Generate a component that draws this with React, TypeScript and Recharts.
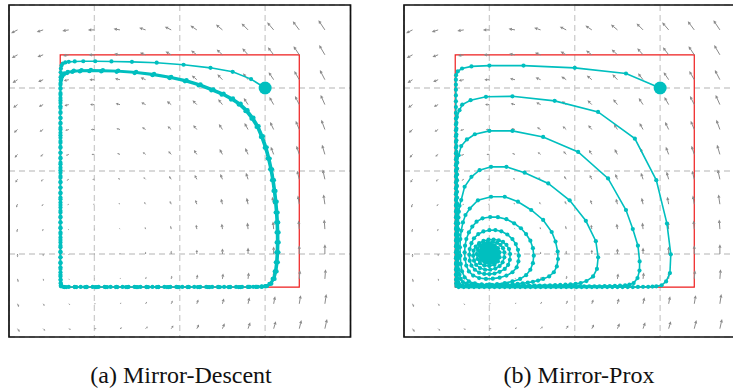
import { ScatterChart, Scatter, XAxis, YAxis, CartesianGrid, ReferenceArea } from 'recharts'

type Pt = [number, number]

const CYAN = '#00bfbf'
const ARROW = '#8a8a8a'

const gridTicks = [-1, 0, 1]
const domain: [number, number] = [-2, 2]
const boxLo = -1.4
const boxHi = 1.4

// quiver sample positions (same for both panels)
const fieldX = [-1.9, -1.6, -1.3, -1.0, -0.7, -0.4, -0.1, 0.2, 0.5, 0.8, 1.1, 1.4, 1.7]
const fieldY = [-1.9, -1.6, -1.3, -1.0, -0.7, -0.4, -0.1, 0.2, 0.5, 0.8, 1.1, 1.4, 1.7]
// horizontal component per row, vertical component per column
const fieldU = [0.9, 0.6, 0.3, 0, -0.3, -0.6, -0.9, -1.2, -1.5, -1.8, -2.1, -2.4, -2.7]
const fieldV = [-1.35, -0.9, -0.45, 0, 0.45, 0.9, 1.35, 1.8, 2.25, 2.7, 3.15, 3.6, 4.05]

// ---- (a) Mirror-Descent ----
const mdStart: Pt[] = [
  [1.0, 1.0], [0.835, 1.107], [0.62, 1.195], [0.36, 1.243], [0.045, 1.28], [-0.27, 1.305], [-0.56, 1.315],
  [-0.8, 1.32], [-0.99, 1.322], [-1.13, 1.322], [-1.23, 1.32], [-1.3, 1.315], [-1.34, 1.308], [-1.37, 1.295],
  [-1.385, 1.27], [-1.392, 1.235],
]
const mdWall1: Pt[] = [
  [-1.395, 1.19], [-1.396, 1.13], [-1.396, 1.06], [-1.397, 0.99], [-1.397, 0.92], [-1.397, 0.85], [-1.397, 0.78],
  [-1.397, 0.71], [-1.397, 0.64], [-1.397, 0.57], [-1.397, 0.5], [-1.397, 0.43], [-1.397, 0.36], [-1.397, 0.29],
  [-1.397, 0.22], [-1.397, 0.15], [-1.397, 0.08], [-1.397, 0.01], [-1.397, -0.06], [-1.397, -0.13], [-1.397, -0.2],
  [-1.397, -0.27], [-1.397, -0.34], [-1.397, -0.41], [-1.397, -0.48], [-1.397, -0.55], [-1.397, -0.62],
  [-1.397, -0.69], [-1.397, -0.76], [-1.397, -0.83], [-1.397, -0.9], [-1.397, -0.97], [-1.397, -1.04],
  [-1.397, -1.11], [-1.397, -1.18], [-1.397, -1.25], [-1.396, -1.31], [-1.394, -1.355], [-1.39, -1.385],
]
const mdBottom1: Pt[] = [
  [-1.36, -1.397], [-1.3, -1.397], [-1.23, -1.397], [-1.16, -1.397], [-1.09, -1.397], [-1.02, -1.397],
  [-0.95, -1.397], [-0.88, -1.397], [-0.81, -1.397], [-0.74, -1.397], [-0.67, -1.397], [-0.6, -1.397],
  [-0.53, -1.397], [-0.46, -1.397], [-0.39, -1.397], [-0.32, -1.397], [-0.25, -1.397], [-0.18, -1.397],
  [-0.11, -1.397], [-0.04, -1.397], [0.03, -1.397], [0.1, -1.397], [0.17, -1.397], [0.24, -1.397], [0.31, -1.397],
  [0.38, -1.397], [0.45, -1.397], [0.52, -1.397], [0.59, -1.397], [0.66, -1.397], [0.73, -1.397], [0.8, -1.397],
  [0.86, -1.396], [0.915, -1.395], [0.96, -1.393],
]
const mdReturn1: Pt[] = [
  [1.0, -1.388], [1.05, -1.36], [1.088, -1.3], [1.112, -1.21], [1.125, -1.1], [1.132, -0.98], [1.135, -0.86],
  [1.134, -0.74], [1.13, -0.62], [1.123, -0.5], [1.112, -0.37], [1.098, -0.24], [1.08, -0.11], [1.058, 0.02],
  [1.03, 0.15], [0.995, 0.28], [0.95, 0.41], [0.9, 0.53], [0.84, 0.63], [0.77, 0.72], [0.69, 0.8], [0.6, 0.86],
  [0.49, 0.92], [0.37, 0.97], [0.22, 1.03], [0.06, 1.08], [-0.12, 1.12], [-0.32, 1.155], [-0.53, 1.18],
  [-0.74, 1.195], [-0.92, 1.2], [-1.06, 1.202], [-1.17, 1.2], [-1.26, 1.193], [-1.32, 1.18], [-1.36, 1.16],
  [-1.382, 1.13], [-1.393, 1.09],
]
const mdWall2: Pt[] = [
  [-1.397, 1.0], [-1.397, 0.88], [-1.397, 0.76], [-1.397, 0.64], [-1.397, 0.52], [-1.397, 0.4], [-1.397, 0.28],
  [-1.397, 0.16], [-1.397, 0.04], [-1.397, -0.08], [-1.397, -0.2], [-1.397, -0.32], [-1.397, -0.44],
  [-1.397, -0.56], [-1.397, -0.68], [-1.397, -0.8], [-1.397, -0.92], [-1.397, -1.04], [-1.397, -1.16],
  [-1.397, -1.27], [-1.395, -1.35], [-1.39, -1.39],
]
const mdBottom2: Pt[] = [
  [-1.35, -1.398], [-1.23, -1.398], [-1.11, -1.398], [-0.99, -1.398], [-0.87, -1.398], [-0.75, -1.398],
  [-0.63, -1.398], [-0.51, -1.398], [-0.39, -1.398], [-0.27, -1.398], [-0.15, -1.398], [-0.03, -1.398],
  [0.09, -1.398], [0.21, -1.398], [0.33, -1.398], [0.45, -1.398], [0.57, -1.398], [0.69, -1.398], [0.8, -1.397],
  [0.89, -1.396], [0.955, -1.394],
]
const mdReturn2: Pt[] = [
  [1.01, -1.388], [1.061, -1.359], [1.099, -1.3], [1.123, -1.21], [1.137, -1.1], [1.144, -0.98], [1.147, -0.86],
  [1.146, -0.74], [1.142, -0.62], [1.135, -0.5], [1.124, -0.37], [1.11, -0.24], [1.092, -0.11], [1.07, 0.02],
  [1.042, 0.15], [1.007, 0.28], [0.962, 0.415], [0.912, 0.535], [0.852, 0.635], [0.782, 0.726], [0.702, 0.806],
  [0.612, 0.866], [0.502, 0.926], [0.382, 0.977], [0.232, 1.037], [0.07, 1.087], [-0.11, 1.127], [-0.31, 1.162],
  [-0.52, 1.187], [-0.73, 1.202], [-0.91, 1.208], [-1.05, 1.21], [-1.16, 1.208], [-1.25, 1.201], [-1.315, 1.188],
  [-1.357, 1.168], [-1.38, 1.138], [-1.392, 1.098],
]
const mdWall3: Pt[] = [
  [-1.397, 1.04], [-1.397, 0.94], [-1.397, 0.82], [-1.397, 0.7], [-1.397, 0.58], [-1.397, 0.46], [-1.397, 0.34],
  [-1.397, 0.22], [-1.397, 0.1], [-1.397, -0.02], [-1.397, -0.14], [-1.397, -0.26], [-1.397, -0.38],
  [-1.397, -0.5], [-1.397, -0.62], [-1.397, -0.74], [-1.397, -0.86], [-1.397, -0.98], [-1.397, -1.1],
  [-1.397, -1.22], [-1.396, -1.31], [-1.392, -1.375],
]
const mdBottom3: Pt[] = [
  [-1.33, -1.398], [-1.21, -1.398], [-1.09, -1.398], [-0.97, -1.398], [-0.85, -1.398], [-0.73, -1.398],
  [-0.61, -1.398], [-0.49, -1.398], [-0.37, -1.398], [-0.25, -1.398], [-0.13, -1.398], [-0.01, -1.398],
  [0.11, -1.398], [0.23, -1.398], [0.35, -1.398], [0.47, -1.398], [0.59, -1.398], [0.71, -1.398], [0.82, -1.397],
  [0.9, -1.396], [0.965, -1.394],
]
const mdReturn3: Pt[] = [
  [1.02, -1.388], [1.073, -1.358], [1.111, -1.3], [1.135, -1.21], [1.149, -1.1], [1.156, -0.98], [1.159, -0.86],
  [1.158, -0.74], [1.154, -0.62], [1.147, -0.5], [1.136, -0.37], [1.122, -0.24], [1.104, -0.11], [1.082, 0.02],
  [1.054, 0.15], [1.019, 0.285], [0.974, 0.42], [0.924, 0.54], [0.864, 0.642], [0.794, 0.733], [0.714, 0.813],
  [0.624, 0.874], [0.514, 0.934], [0.394, 0.985], [0.244, 1.045], [0.08, 1.095], [-0.1, 1.135], [-0.3, 1.17],
  [-0.51, 1.195], [-0.72, 1.21], [-0.9, 1.216], [-1.04, 1.218], [-1.15, 1.216], [-1.24, 1.209], [-1.31, 1.196],
  [-1.352, 1.176], [-1.377, 1.146], [-1.39, 1.106],
]

// ---- (b) Mirror-Prox ----
const mpStart: Pt[] = [
  [1.0, 1.0], [0.6, 1.175], [0.0, 1.243], [-0.6, 1.27], [-1.0, 1.27], [-1.21, 1.26], [-1.32, 1.235],
  [-1.37, 1.2], [-1.39, 1.155],
]
const mpWall1: Pt[] = [
  [-1.392, 1.1], [-1.392, 1.04], [-1.392, 0.98], [-1.392, 0.91], [-1.392, 0.84], [-1.392, 0.77], [-1.392, 0.7],
  [-1.392, 0.63], [-1.392, 0.56], [-1.392, 0.49], [-1.392, 0.42], [-1.392, 0.35], [-1.392, 0.28], [-1.392, 0.21],
  [-1.392, 0.14], [-1.392, 0.07], [-1.392, 0.0], [-1.392, -0.07], [-1.392, -0.14], [-1.392, -0.21],
  [-1.392, -0.28], [-1.392, -0.35], [-1.392, -0.42], [-1.392, -0.49], [-1.392, -0.56], [-1.392, -0.63],
  [-1.392, -0.7], [-1.392, -0.77], [-1.392, -0.84], [-1.392, -0.91], [-1.392, -0.98], [-1.392, -1.05],
  [-1.392, -1.12], [-1.392, -1.19], [-1.392, -1.25], [-1.391, -1.31], [-1.389, -1.355], [-1.385, -1.385],
]
const mpBottom1: Pt[] = [
  [-1.36, -1.398], [-1.3, -1.398], [-1.24, -1.398], [-1.18, -1.398], [-1.12, -1.398], [-1.06, -1.398],
  [-1.0, -1.398], [-0.94, -1.398], [-0.88, -1.398], [-0.82, -1.398], [-0.76, -1.398], [-0.7, -1.398],
  [-0.64, -1.398], [-0.58, -1.398], [-0.52, -1.398], [-0.46, -1.398], [-0.4, -1.398], [-0.34, -1.398],
  [-0.28, -1.398], [-0.22, -1.398], [-0.16, -1.398], [-0.1, -1.398], [-0.04, -1.398], [0.02, -1.398],
  [0.08, -1.398], [0.14, -1.398], [0.2, -1.398], [0.26, -1.398], [0.32, -1.398], [0.38, -1.398], [0.44, -1.398],
  [0.5, -1.398], [0.56, -1.398], [0.62, -1.398], [0.68, -1.398], [0.74, -1.397], [0.8, -1.396], [0.86, -1.395],
  [0.91, -1.393], [0.955, -1.39],
]
const mpReturn1: Pt[] = [
  [1.017, -1.378], [1.07, -1.33], [1.115, -1.23], [1.125, -1.004], [1.08, -0.634], [0.955, -0.11], [0.704, 0.39],
  [0.273, 0.712], [-0.235, 0.845], [-0.73, 0.9], [-1.04, 0.894], [-1.22, 0.853], [-1.317, 0.8], [-1.35, 0.733],
  [-1.38, 0.65],
]
const mpWall2: Pt[] = [
  [-1.386, 0.58], [-1.386, 0.51], [-1.386, 0.44], [-1.386, 0.37], [-1.386, 0.3], [-1.386, 0.23], [-1.386, 0.16],
  [-1.386, 0.09], [-1.386, 0.02], [-1.386, -0.05], [-1.386, -0.12], [-1.386, -0.19], [-1.386, -0.26],
  [-1.386, -0.33], [-1.386, -0.4], [-1.386, -0.47], [-1.386, -0.54], [-1.386, -0.61], [-1.386, -0.68],
  [-1.386, -0.75], [-1.386, -0.82], [-1.386, -0.89], [-1.386, -0.96], [-1.386, -1.03], [-1.386, -1.1],
  [-1.386, -1.17], [-1.385, -1.24], [-1.384, -1.3], [-1.38, -1.35], [-1.372, -1.378],
]
const mpBottom2: Pt[] = [
  [-1.33, -1.39], [-1.27, -1.391], [-1.21, -1.391], [-1.15, -1.391], [-1.09, -1.391], [-1.03, -1.391],
  [-0.97, -1.391], [-0.91, -1.391], [-0.85, -1.391], [-0.79, -1.391], [-0.73, -1.391], [-0.67, -1.391],
  [-0.61, -1.391], [-0.55, -1.391], [-0.49, -1.391], [-0.43, -1.391], [-0.37, -1.391], [-0.31, -1.391],
  [-0.25, -1.391], [-0.19, -1.391], [-0.13, -1.391], [-0.07, -1.391], [-0.01, -1.391], [0.05, -1.391],
  [0.11, -1.391], [0.17, -1.39], [0.23, -1.39], [0.29, -1.389], [0.35, -1.388], [0.41, -1.387], [0.47, -1.385],
  [0.53, -1.382], [0.59, -1.377], [0.64, -1.37],
]
const mpReturn2: Pt[] = [
  [0.69, -1.35], [0.735, -1.29], [0.758, -1.2], [0.76, -1.09], [0.74, -0.9], [0.68, -0.7], [0.6, -0.47],
  [0.39, -0.09], [0.04, 0.23], [-0.37, 0.41], [-0.73, 0.483], [-1.0, 0.483], [-1.17, 0.443], [-1.263, 0.38],
  [-1.33, 0.3], [-1.36, 0.19],
]
const mpWall3: Pt[] = [
  [-1.376, 0.1], [-1.378, 0.03], [-1.379, -0.04], [-1.379, -0.11], [-1.379, -0.18], [-1.379, -0.25],
  [-1.379, -0.32], [-1.379, -0.39], [-1.379, -0.46], [-1.379, -0.53], [-1.379, -0.6], [-1.379, -0.67],
  [-1.379, -0.74], [-1.379, -0.81], [-1.379, -0.88], [-1.379, -0.95], [-1.379, -1.02], [-1.379, -1.09],
  [-1.378, -1.16], [-1.376, -1.23], [-1.372, -1.29], [-1.364, -1.34], [-1.35, -1.368],
]
const mpBottom3: Pt[] = [
  [-1.31, -1.38], [-1.25, -1.383], [-1.19, -1.384], [-1.13, -1.384], [-1.07, -1.384], [-1.01, -1.384],
  [-0.95, -1.384], [-0.89, -1.384], [-0.83, -1.384], [-0.77, -1.384], [-0.71, -1.384], [-0.65, -1.384],
  [-0.59, -1.383], [-0.53, -1.383], [-0.47, -1.382], [-0.41, -1.381], [-0.35, -1.38], [-0.29, -1.378],
  [-0.23, -1.376], [-0.17, -1.373], [-0.11, -1.37], [-0.05, -1.365], [0.01, -1.36],
]
const mpReturn3: Pt[] = [
  [0.07, -1.35], [0.137, -1.326], [0.215, -1.27], [0.26, -1.18], [0.274, -1.04], [0.247, -0.845], [0.13, -0.6],
  [-0.06, -0.353], [-0.31, -0.15], [-0.587, -0.02], [-0.8, 0.05], [-0.98, 0.05], [-1.115, 0.01], [-1.21, -0.07],
  [-1.29, -0.19], [-1.33, -0.35],
]
const mpWall4: Pt[] = [
  [-1.35, -0.42], [-1.358, -0.49], [-1.362, -0.56], [-1.364, -0.63], [-1.365, -0.7], [-1.365, -0.77],
  [-1.365, -0.84], [-1.365, -0.91], [-1.365, -0.98], [-1.364, -1.05], [-1.362, -1.12], [-1.358, -1.19],
  [-1.35, -1.25], [-1.335, -1.3], [-1.31, -1.338],
]
const mpBottom4: Pt[] = [
  [-1.27, -1.358], [-1.21, -1.367], [-1.15, -1.37], [-1.09, -1.372], [-1.03, -1.372], [-0.97, -1.372],
  [-0.91, -1.371], [-0.85, -1.37], [-0.79, -1.368], [-0.73, -1.365], [-0.67, -1.36], [-0.61, -1.353],
  [-0.55, -1.345], [-0.49, -1.335], [-0.43, -1.32], [-0.37, -1.3],
]
const mpReturn4: Pt[] = [
  [-0.3, -1.27], [-0.245, -1.22], [-0.21, -1.15], [-0.196, -1.06], [-0.2, -0.97], [-0.225, -0.85],
  [-0.27, -0.735], [-0.37, -0.59], [-0.51, -0.47], [-0.665, -0.37], [-0.82, -0.31], [-0.98, -0.31],
  [-1.134, -0.353], [-1.23, -0.453],
]
const mpLap5: Pt[] = [
  [-1.28, -0.53], [-1.31, -0.62], [-1.33, -0.72], [-1.34, -0.82], [-1.345, -0.92], [-1.34, -1.02],
  [-1.335, -1.12], [-1.32, -1.21], [-1.29, -1.28], [-1.24, -1.33], [-1.17, -1.355], [-1.09, -1.365],
  [-1.0, -1.367], [-0.91, -1.362], [-0.82, -1.35], [-0.73, -1.33], [-0.64, -1.3], [-0.57, -1.255],
  [-0.52, -1.19], [-0.49, -1.11], [-0.48, -1.02], [-0.49, -0.93], [-0.52, -0.84], [-0.57, -0.76],
  [-0.63, -0.69], [-0.71, -0.63], [-0.8, -0.58], [-0.9, -0.556], [-0.99, -0.554], [-1.08, -0.57],
  [-1.15, -0.61], [-1.2, -0.67],
]
const mpLap6: Pt[] = [
  [-1.24, -0.74], [-1.27, -0.82], [-1.285, -0.9], [-1.29, -0.98], [-1.285, -1.06], [-1.27, -1.14],
  [-1.24, -1.21], [-1.19, -1.26], [-1.12, -1.29], [-1.04, -1.3], [-0.96, -1.297], [-0.88, -1.285],
  [-0.8, -1.26], [-0.73, -1.22], [-0.68, -1.16], [-0.66, -1.09], [-0.655, -1.02], [-0.665, -0.95],
  [-0.69, -0.88], [-0.73, -0.82], [-0.79, -0.765], [-0.86, -0.727], [-0.93, -0.712], [-1.0, -0.713],
  [-1.07, -0.728], [-1.13, -0.76], [-1.18, -0.81],
]
const mpLap7: Pt[] = [
  [-1.21, -0.87], [-1.23, -0.94], [-1.235, -1.01], [-1.23, -1.08], [-1.21, -1.14], [-1.17, -1.19],
  [-1.12, -1.225], [-1.06, -1.24], [-1.0, -1.242], [-0.94, -1.235], [-0.88, -1.215], [-0.82, -1.18],
  [-0.78, -1.13], [-0.76, -1.07], [-0.757, -1.0], [-0.77, -0.94], [-0.8, -0.89], [-0.84, -0.855],
  [-0.89, -0.835], [-0.95, -0.826], [-1.01, -0.828], [-1.07, -0.843], [-1.12, -0.87], [-1.16, -0.91],
]
const mpLap8: Pt[] = [
  [-1.185, -0.96], [-1.19, -1.02], [-1.18, -1.08], [-1.155, -1.13], [-1.11, -1.17], [-1.05, -1.19],
  [-0.99, -1.19], [-0.93, -1.175], [-0.88, -1.145], [-0.845, -1.1], [-0.825, -1.04], [-0.825, -0.98],
  [-0.84, -0.93], [-0.87, -0.89], [-0.91, -0.865], [-0.96, -0.855], [-1.02, -0.857], [-1.07, -0.872],
  [-1.11, -0.9], [-1.14, -0.94],
]
const mpLap9: Pt[] = [
  [-1.15, -1.0], [-1.14, -1.06], [-1.11, -1.11], [-1.06, -1.14], [-1.0, -1.145], [-0.94, -1.13], [-0.9, -1.09],
  [-0.88, -1.04], [-0.88, -0.98], [-0.9, -0.93], [-0.94, -0.895], [-0.99, -0.885], [-1.04, -0.89],
  [-1.09, -0.915], [-1.12, -0.96],
]
const mpLap10: Pt[] = [
  [-1.12, -1.02], [-1.1, -1.07], [-1.05, -1.1], [-0.99, -1.1], [-0.94, -1.07], [-0.915, -1.02], [-0.92, -0.96],
  [-0.95, -0.925], [-1.0, -0.915], [-1.05, -0.93], [-1.085, -0.97], [-1.075, -1.03], [-1.04, -1.06],
  [-0.99, -1.06], [-0.955, -1.02], [-0.96, -0.97], [-1.0, -0.955], [-1.035, -0.98], [-1.02, -1.01], [-1.0, -1.0],
]

const captions = ['(a) Mirror-Descent', '(b) Mirror-Prox']

const toPoints = (segs: Pt[][]) => segs.flat().map(([x, y]) => ({ x, y }))

const mdPoints = toPoints([mdStart, mdWall1, mdBottom1, mdReturn1, mdWall2, mdBottom2, mdReturn2, mdWall3, mdBottom3, mdReturn3])
const mpPoints = toPoints([
  mpStart, mpWall1, mpBottom1, mpReturn1, mpWall2, mpBottom2, mpReturn2, mpWall3, mpBottom3, mpReturn3,
  mpWall4, mpBottom4, mpReturn4, mpLap5, mpLap6, mpLap7, mpLap8, mpLap9, mpLap10,
])

const arrowField = fieldY.flatMap((y, r) => fieldX.map((x, c) => ({ x, y, u: fieldU[r], v: fieldV[c] })))

const ARROW_SCALE = 2.4 // px per field unit

function Arrow(props: any) {
  const { cx, cy, payload } = props
  const dx = payload.u * ARROW_SCALE
  const dy = -payload.v * ARROW_SCALE
  const len = Math.hypot(dx, dy)
  if (len < 0.6) return <circle cx={cx} cy={cy} r={0.6} fill={ARROW} />
  const ux = dx / len, uy = dy / len
  const head = Math.min(3.4, len * 0.55)
  const hw = Math.min(1.6, len * 0.3)
  const bx = cx + dx - ux * head
  const by = cy + dy - uy * head
  return (
    <g>
      <line x1={cx} y1={cy} x2={bx} y2={by} stroke={ARROW} strokeWidth={1} />
      <polygon
        points={`${cx + dx},${cy + dy} ${bx - uy * hw},${by + ux * hw} ${bx + uy * hw},${by - ux * hw}`}
        fill={ARROW}
      />
    </g>
  )
}

// trajectory dots: the last point of a converging run is drawn as a solid blob
const TrackDot = (props: any) => {
  const r = props.payload?.blob ? 11 : 2.1
  return <circle cx={props.cx} cy={props.cy} r={r} fill={CYAN} />
}
const BigDot = (props: any) => <circle cx={props.cx} cy={props.cy} r={6.5} fill={CYAN} />

const W = 345.5
const H = 336

type P = { x: number; y: number; blob?: boolean }
type PanelProps = { points: P[]; left: number; endBlob?: boolean }

function Panel({ points, left, endBlob }: PanelProps) {
  const track = endBlob
    ? points.map((p, i) => (i === points.length - 1 ? { ...p, blob: true } : p))
    : points
  return (
    <div style={{ position: 'absolute', left, top: 3, width: W, height: H }}>
      <ScatterChart width={W} height={H} margin={{ top: 2, right: 2, bottom: 2, left: 2 }}>
        <XAxis type="number" dataKey="x" domain={domain} ticks={gridTicks} hide allowDataOverflow />
        <YAxis type="number" dataKey="y" domain={domain} ticks={gridTicks} hide allowDataOverflow />
        <CartesianGrid stroke="#cdcdcd" strokeWidth={1.3} strokeDasharray="6 4" />
        <Scatter data={arrowField} shape={Arrow} isAnimationActive={false} />
        <ReferenceArea x1={boxLo} x2={boxHi} y1={boxLo} y2={boxHi} fill="none" stroke="#ee1c1c" strokeWidth={1.2} ifOverflow="visible" />
        <Scatter data={track} shape={TrackDot} line={{ stroke: CYAN, strokeWidth: 1.6 }} lineType="joint" isAnimationActive={false} />
        <Scatter data={points.slice(0, 1)} shape={BigDot} isAnimationActive={false} />
        <ReferenceArea x1={domain[0]} x2={domain[1]} y1={domain[0]} y2={domain[1]} fill="none" stroke="#111" strokeWidth={1.7} ifOverflow="visible" />
      </ScatterChart>
    </div>
  )
}

export default function App() {
  return (
    <div style={{ position: 'fixed', left: 0, top: 0, width: 733, height: 388, overflow: 'hidden', background: '#fff' }}>
      <Panel points={mdPoints} left={6.5} />
      <Panel points={mpPoints} left={402.3} endBlob />
      <svg width={733} height={388} style={{ position: 'absolute', left: 0, top: 0, pointerEvents: 'none' }}>
        <text x={181} y={382.5} textAnchor="middle" fontFamily='"Liberation Serif", serif' fontSize={24} fill="#111">
          {captions[0]}
        </text>
        <text x={579} y={382.5} textAnchor="middle" fontFamily='"Liberation Serif", serif' fontSize={24} fill="#111">
          {captions[1]}
        </text>
      </svg>
    </div>
  )
}
